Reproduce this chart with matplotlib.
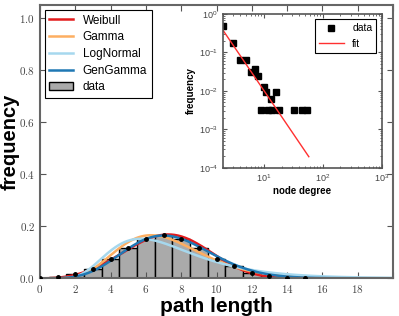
import math
import numpy as np
import matplotlib
matplotlib.use('Agg')
import matplotlib.pyplot as plt
from matplotlib.ticker import FuncFormatter, MultipleLocator

plt.rcParams['mathtext.fontset'] = 'cm'
plt.rcParams['font.family'] = ['Liberation Sans', 'DejaVu Sans']

# path length histogram (bins centred on integers)
path_len = np.arange(0, 16)
path_freq = [0.0, 0.005, 0.016, 0.036, 0.075, 0.118, 0.152, 0.168,
             0.152, 0.118, 0.076, 0.048, 0.020, 0.007, 0.002, 0.001]

# fitted distribution parameters
weib_k, weib_scale = 3.5, 8.0
gam_a, gam_scale = 8.0, 0.9
logn_mu, logn_sigma = 1.92, 0.42
gg_a, gg_c, gg_scale = 2.5, 2.0, 4.95

# inset: degree distribution
degree = [2, 3, 4, 5, 6, 7, 8, 9, 10, 11, 12, 13, 14, 16, 18, 32, 44, 55]
degree_freq = [0.48, 0.177, 0.063, 0.063, 0.031, 0.037, 0.025, 0.0032,
               0.0123, 0.0092, 0.0032, 0.0063, 0.0032, 0.0092, 0.0032,
               0.0032, 0.0032, 0.0032]
fit_c, fit_gamma = 0.39 * 2 ** 2.26, 2.26
fit_range = (2, 58)


def weibull(x, k, s):
    y = x / s
    return k / s * y ** (k - 1) * np.exp(-y ** k)


def gamma_pdf(x, a, s):
    y = x / s
    return y ** (a - 1) * np.exp(-y) / (math.gamma(a) * s)


def lognorm(x, mu, sig):
    return np.exp(-(np.log(x) - mu) ** 2 / (2 * sig ** 2)) / (x * sig * np.sqrt(2 * np.pi))


def gengamma(x, a, c, s):
    y = x / s
    return abs(c) * y ** (c * a - 1) * np.exp(-y ** c) / (math.gamma(a) * s)


fig = plt.figure(figsize=(3.99, 3.16), dpi=100)
ax = fig.add_axes([0.1003, 0.1193, 0.8847, 0.8647])

x = np.linspace(0.01, 20, 400)
ax.bar(path_len, path_freq, width=1.0, color='#aaaaaa', edgecolor='black',
       linewidth=1.0, label='data', zorder=1)
ax.plot(path_len, path_freq, 'o', color='black', ms=2.5, zorder=3)
ax.plot(x, weibull(x, weib_k, weib_scale), color='#e31a1c', lw=1.8, label='Weibull', zorder=2)
ax.plot(x, gamma_pdf(x, gam_a, gam_scale), color='#fdae61', lw=1.8, label='Gamma', zorder=2)
ax.plot(x, lognorm(x, logn_mu, logn_sigma), color='#a6d8ee', lw=1.8, label='LogNormal', zorder=2)
ax.plot(x, gengamma(x, gg_a, gg_c, gg_scale), color='#1f78b4', lw=1.8, label='GenGamma', zorder=2)

ax.set_xlim(0, 20)
ax.set_ylim(0, 1.05)
ax.xaxis.set_major_locator(MultipleLocator(2))
ax.yaxis.set_major_locator(MultipleLocator(0.2))
ax.xaxis.set_major_formatter(FuncFormatter(lambda v, p: f'${v:.0f}$' if v < 19 else ''))
ax.yaxis.set_major_formatter(FuncFormatter(lambda v, p: f'${v:.1f}$'))
ax.tick_params(direction='in', top=True, right=True, labelsize=8, labelcolor='#444444',
               length=4, color='#555555')
for sp in ax.spines.values():
    sp.set_color('#666666')
    sp.set_linewidth(1.5)
ax.set_xlabel('path length', fontsize=15, fontweight='bold', labelpad=1)
ax.set_ylabel('frequency', fontsize=14.5, fontweight='bold', labelpad=0)

leg = ax.legend(loc='upper left', fontsize=8.5, fancybox=False, edgecolor='black',
                framealpha=1, borderaxespad=0.4, handlelength=2.0, labelspacing=0.4)
leg.get_frame().set_linewidth(0.8)

# inset
ins = fig.add_axes([0.558, 0.4693, 0.3986, 0.4864])
ins.plot(degree, degree_freq, 's', color='black', ms=4.5, label='data')
fx = np.linspace(fit_range[0], fit_range[1], 100)
ins.plot(fx, fit_c * fx ** (-fit_gamma), color='#ff3030', lw=1.0, label='fit')
ins.set_xscale('log')
ins.set_yscale('log')
ins.set_xlim(2, 1000)
ins.set_ylim(1e-4, 1)
ins.tick_params(which='both', direction='in', top=True, right=True, labelsize=6.5,
                labelcolor='#444444', color='#555555')
ins.tick_params(which='major', length=3)
ins.tick_params(which='minor', length=1.5)
for sp in ins.spines.values():
    sp.set_color('#555555')
    sp.set_linewidth(1.2)
ins.set_xlabel('node degree', fontsize=7, fontweight='bold', labelpad=1)
ins.set_ylabel('frequency', fontsize=7, fontweight='bold', labelpad=2)
leg2 = ins.legend(loc='upper right', fontsize=7.5, fancybox=False, edgecolor='black',
                  framealpha=1, numpoints=1, handlelength=2.4, borderaxespad=0.5,
                  labelspacing=0.5)
leg2.get_frame().set_linewidth(0.8)

fig.savefig('out.png', dpi=100)
